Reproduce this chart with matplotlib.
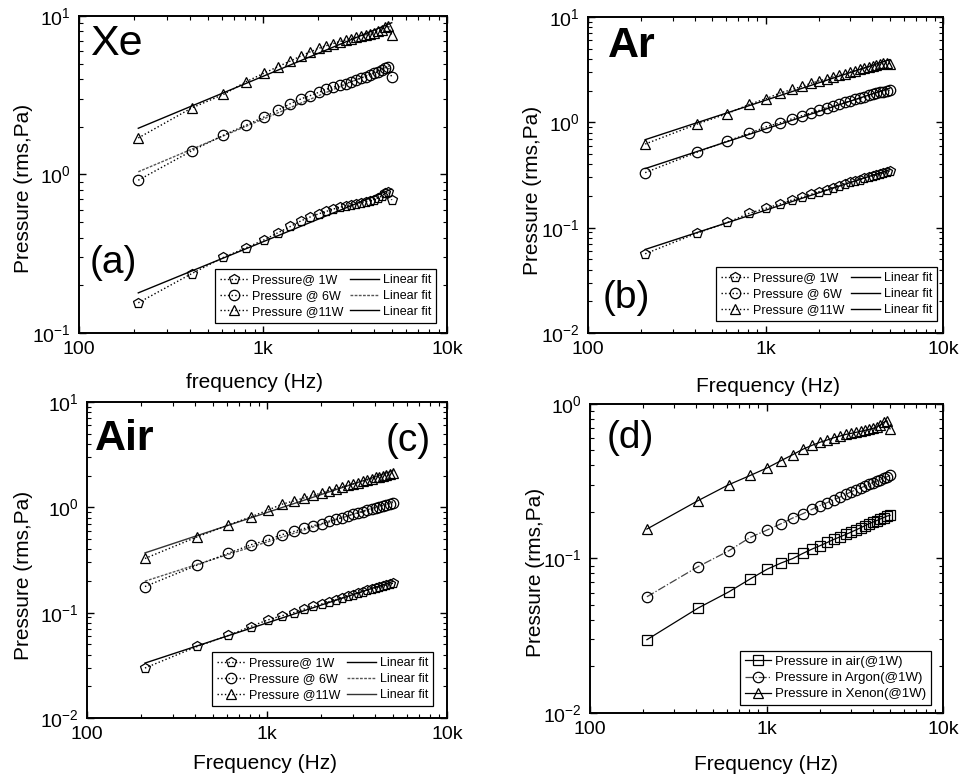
import numpy as np
import matplotlib
matplotlib.use('Agg')
import matplotlib.pyplot as plt
from matplotlib.ticker import FixedLocator, FixedFormatter

plt.rcParams['font.family'] = ['Liberation Sans', 'DejaVu Sans']
plt.rcParams['mathtext.fontset'] = 'custom'
plt.rcParams['mathtext.rm'] = 'Liberation Sans'

# =============================================================================
# DATOS
# =============================================================================
freq = [210, 410, 610, 810, 1010, 1210, 1410, 1610, 1810, 2010, 2210, 2410, 2610,
        2810, 3010, 3210, 3410, 3610, 3810, 4010, 4210, 4410, 4610, 4810, 5010]

xe_1w = [0.155, 0.237, 0.30, 0.345, 0.386, 0.43, 0.47, 0.51, 0.54, 0.565, 0.585, 0.605, 0.62,
         0.635, 0.645, 0.655, 0.665, 0.675, 0.685, 0.695, 0.71, 0.73, 0.76, 0.78, 0.69]
xe_6w = [0.92, 1.41, 1.77, 2.05, 2.3, 2.55, 2.8, 3.0, 3.15, 3.3, 3.45, 3.55, 3.65,
         3.75, 3.85, 3.95, 4.05, 4.15, 4.25, 4.35, 4.45, 4.55, 4.7, 4.75, 4.1]
xe_11w = [1.7, 2.63, 3.2, 3.85, 4.35, 4.8, 5.2, 5.6, 5.95, 6.25, 6.5, 6.7, 6.9,
          7.05, 7.2, 7.35, 7.5, 7.6, 7.7, 7.85, 8.0, 8.2, 8.5, 8.7, 7.6]

ar_1w = [0.0565, 0.0886, 0.112, 0.137, 0.153, 0.168, 0.183, 0.195, 0.208, 0.22, 0.23, 0.24, 0.25,
         0.26, 0.27, 0.278, 0.286, 0.294, 0.302, 0.31, 0.317, 0.324, 0.331, 0.338, 0.345]
ar_6w = [0.333, 0.519, 0.664, 0.785, 0.908, 0.99, 1.08, 1.16, 1.23, 1.3, 1.37, 1.43, 1.49,
         1.55, 1.6, 1.65, 1.7, 1.75, 1.8, 1.84, 1.88, 1.92, 1.96, 2.0, 2.02]
ar_11w = [0.622, 0.96, 1.21, 1.48, 1.68, 1.9, 2.05, 2.2, 2.35, 2.48, 2.6, 2.7, 2.8,
          2.9, 3.0, 3.1, 3.2, 3.28, 3.36, 3.44, 3.5, 3.56, 3.62, 3.68, 3.61]

air_1w = [0.0298, 0.0478, 0.0607, 0.0738, 0.0853, 0.0935, 0.1, 0.108, 0.115, 0.121, 0.127, 0.133, 0.138,
          0.143, 0.148, 0.153, 0.158, 0.163, 0.168, 0.172, 0.176, 0.18, 0.184, 0.188, 0.19]
air_6w = [0.177, 0.283, 0.366, 0.44, 0.49, 0.55, 0.59, 0.63, 0.67, 0.7, 0.74, 0.77, 0.8,
          0.83, 0.86, 0.88, 0.91, 0.94, 0.96, 0.99, 1.01, 1.04, 1.06, 1.08, 1.11]
air_11w = [0.327, 0.525, 0.68, 0.81, 0.94, 1.07, 1.15, 1.23, 1.3, 1.37, 1.44, 1.5, 1.56,
           1.62, 1.67, 1.72, 1.77, 1.82, 1.87, 1.92, 1.96, 2.0, 2.04, 2.08, 2.12]

power_labels = ['Pressure@ 1W', 'Pressure @ 6W', 'Pressure @11W']
gas_labels = ['Pressure in air(@1W)', 'Pressure in Argon(@1W)', 'Pressure in Xenon(@1W)']
x_ticks = [100, 1000, 10000]
x_ticklabels = ['100', '1k', '10k']

# =============================================================================
# ESTILO
# =============================================================================
TICK_FS = 14
LABEL_FS = 15
LEG_FS = 9
MS = 7.5

fig = plt.figure(figsize=(9.6, 7.8), dpi=100)


def setup_axis(ax, ylim, xlabel, xl_pos, yl_pos):
    ax.set_xscale('log')
    ax.set_yscale('log')
    ax.set_xlim(100, 10000)
    ax.set_ylim(*ylim)
    ax.xaxis.set_major_locator(FixedLocator(x_ticks))
    ax.xaxis.set_major_formatter(FixedFormatter(x_ticklabels))
    ax.tick_params(which='both', direction='in', top=True, right=True, labelsize=TICK_FS)
    ax.tick_params(which='major', length=5, width=1.0, pad=6)
    ax.tick_params(which='minor', length=3, width=0.8)
    for s in ax.spines.values():
        s.set_linewidth(1.4)
    ax.set_xlabel(xlabel, fontsize=LABEL_FS)
    ax.set_ylabel('Pressure (rms,Pa)', fontsize=LABEL_FS)
    ax.xaxis.set_label_coords(*xl_pos)
    ax.yaxis.set_label_coords(*yl_pos)


def power_panel(ax, series, fit_styles, leg_anchor):
    markers = ['p', 'o', '^']
    data_handles, fit_handles = [], []
    f = np.array(freq, dtype=float)
    for vals, m, lbl, fst in zip(series, markers, power_labels, fit_styles):
        v = np.array(vals)
        h, = ax.plot(f, v, linestyle=':', color='black', linewidth=1.0, marker=m,
                     markersize=MS, markerfacecolor='none', markeredgecolor='black',
                     markeredgewidth=0.9, label=lbl, zorder=3)
        data_handles.append(h)
        # ajuste lineal en escala log-log
        k, b = np.polyfit(np.log10(f), np.log10(v), 1)
        xf = np.array([f[0], f[-1]])
        hf, = ax.plot(xf, 10 ** (k * np.log10(xf) + b), color=fst[0], linestyle=fst[1],
                      linewidth=1.0, label='Linear fit', zorder=2)
        fit_handles.append(hf)
    leg = ax.legend(data_handles + fit_handles, power_labels + ['Linear fit'] * 3,
                    ncol=2, loc='lower right', bbox_to_anchor=leg_anchor,
                    fontsize=LEG_FS, frameon=True, fancybox=False, edgecolor='black',
                    framealpha=1, handlelength=2.3, handletextpad=0.3, columnspacing=0.5,
                    labelspacing=0.3, borderpad=0.4, borderaxespad=0)
    leg.get_frame().set_linewidth(0.9)


# ---------------------------------------------------------------- (a) Xe
ax_a = fig.add_axes([0.0823, 0.5731, 0.3833, 0.4064])
setup_axis(ax_a, (0.1, 10), 'frequency (Hz)', (0.478, -0.125), (-0.125, 0.457))
power_panel(ax_a, [xe_1w, xe_6w, xe_11w],
            [('black', '-'), ('#555555', (0, (2, 1))), ('black', '-')],
            (0.970, 0.032))
ax_a.text(0.03, 0.975, 'Xe', transform=ax_a.transAxes, fontsize=31, ha='left', va='top')
ax_a.text(0.03, 0.22, '(a)', transform=ax_a.transAxes, fontsize=28, ha='left', va='center')

# ---------------------------------------------------------------- (b) Ar
ax_b = fig.add_axes([0.6125, 0.5731, 0.3698, 0.4051])
setup_axis(ax_b, (0.01, 10), 'Frequency (Hz)', (0.507, -0.14), (-0.13, 0.45))
power_panel(ax_b, [ar_1w, ar_6w, ar_11w],
            [('black', '-'), ('black', '-'), ('black', '-')],
            (0.983, 0.038))
ax_b.text(0.056, 0.97, 'Ar', transform=ax_b.transAxes, fontsize=31, fontweight='bold',
          ha='left', va='top')
ax_b.text(0.04, 0.11, '(b)', transform=ax_b.transAxes, fontsize=28, ha='left', va='center')

# ---------------------------------------------------------------- (c) Air
ax_c = fig.add_axes([0.0906, 0.0795, 0.375, 0.4051])
setup_axis(ax_c, (0.01, 10), 'Frequency (Hz)', (0.494, -0.115), (-0.15, 0.45))
power_panel(ax_c, [air_1w, air_6w, air_11w],
            [('black', '-'), ('#555555', (0, (2, 1))), ('#333333', '-')],
            (0.961, 0.038))
ax_c.text(0.022, 0.945, 'Air', transform=ax_c.transAxes, fontsize=31, fontweight='bold',
          ha='left', va='top')
ax_c.text(0.955, 0.877, '(c)', transform=ax_c.transAxes, fontsize=28, ha='right', va='center')

# ---------------------------------------------------------------- (d) comparación 1W
ax_d = fig.add_axes([0.6146, 0.0859, 0.3677, 0.3962])
setup_axis(ax_d, (0.01, 1), 'Frequency (Hz)', (0.499, -0.135), (-0.127, 0.455))
gas_series = [air_1w, ar_1w, xe_1w]
gas_markers = ['s', 'o', '^']
gas_styles = [('black', '-'), ('#444444', '-.'), ('black', '-')]
for vals, m, lbl, (c, ls) in zip(gas_series, gas_markers, gas_labels, gas_styles):
    ax_d.plot(freq, vals, color=c, linestyle=ls, linewidth=0.9, marker=m, markersize=MS,
              markerfacecolor='none', markeredgecolor='black', markeredgewidth=0.9, label=lbl)
leg_d = ax_d.legend(loc='lower right', bbox_to_anchor=(0.966, 0.026),
                    fontsize=LEG_FS + 0.5, frameon=True, fancybox=False, edgecolor='black',
                    framealpha=1, handlelength=2.0, handletextpad=0.3, labelspacing=0.3,
                    borderpad=0.35, borderaxespad=0)
leg_d.get_frame().set_linewidth(0.9)
ax_d.text(0.048, 0.89, '(d)', transform=ax_d.transAxes, fontsize=28, ha='left', va='center')

plt.savefig('out.png', dpi=100)
